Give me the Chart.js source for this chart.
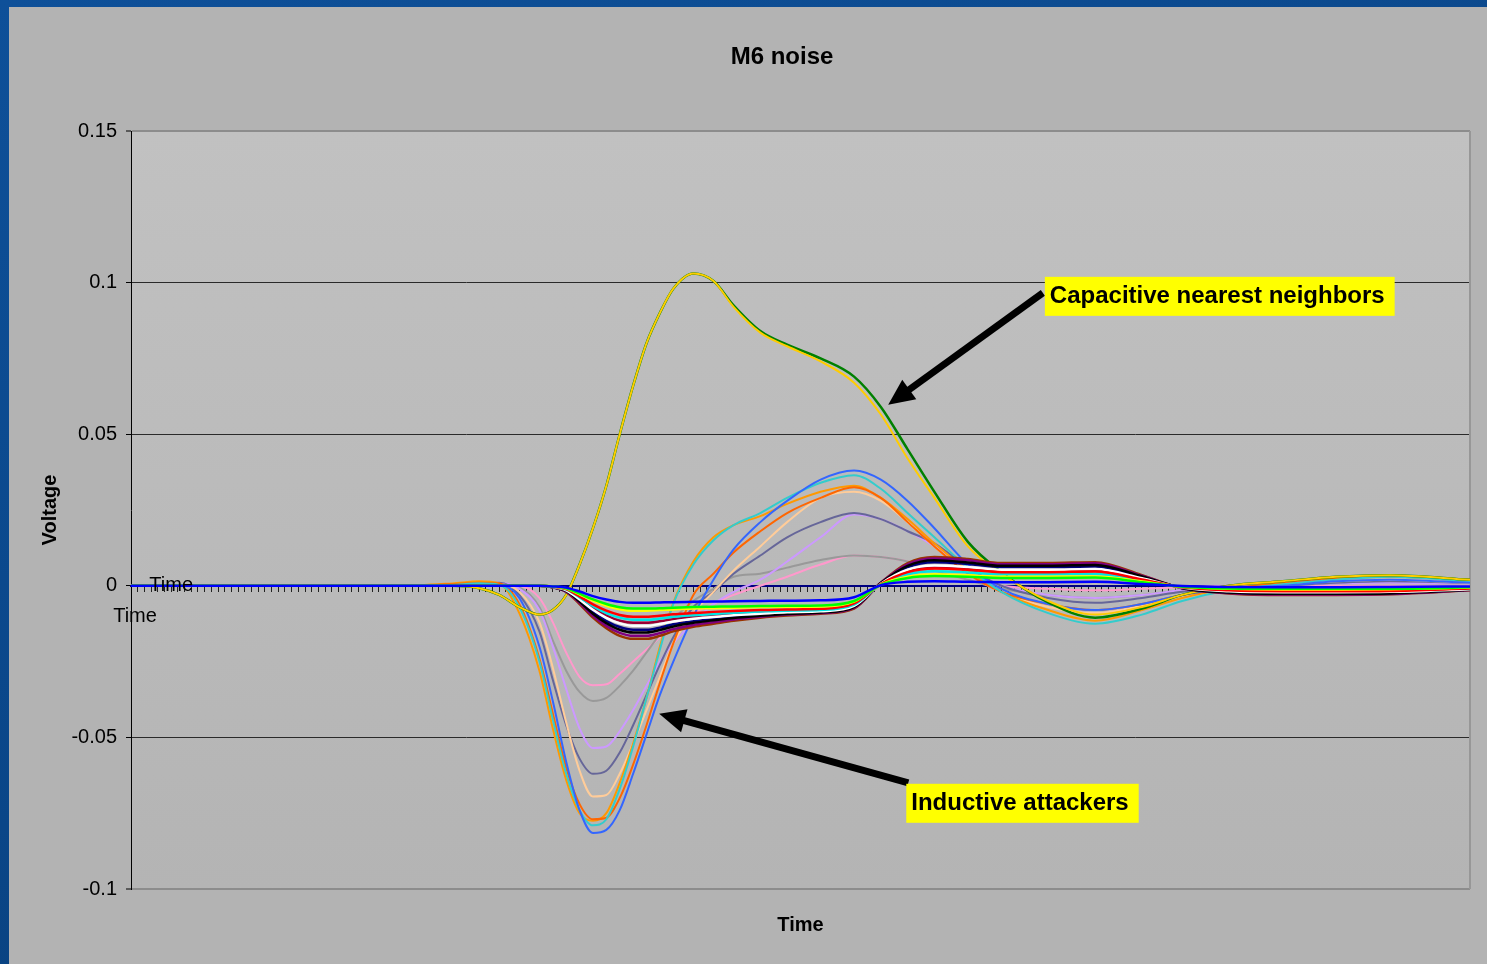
<!DOCTYPE html>
<html>
<head>
<meta charset="utf-8">
<script src="https://cdn.jsdelivr.net/npm/chart.js@4.4.0/dist/chart.umd.min.js"></script>
<style>
html, body { margin: 0; padding: 0; width: 1487px; height: 964px; overflow: hidden; }
body { background: linear-gradient(160deg, #0e5099 0%, #0a4688 55%, #073a6f 100%); }
#wrap { position: absolute; left: 9px; top: 7px; width: 1478px; height: 957px; background: #b3b3b3; }
</style>
</head>
<body>
<div id="wrap"><canvas id="myChart" width="1478" height="957"></canvas></div>
<script>
// time index (category ticks 0..200) of the sampled points
var timeSteps = [0, 40, 48, 52, 55, 58, 61, 63, 65, 67, 69, 71, 73, 75, 77, 79, 81, 84, 87, 90, 94, 98, 103, 108, 112, 116, 120, 125, 130, 137, 144, 151, 157, 164, 172, 180, 188, 200];

// capacitive nearest neighbors
var capGreen  = [0, 0, 0, -0.0008, -0.003, -0.007, -0.0095, -0.008, -0.003, 0.007, 0.019, 0.033, 0.05, 0.066, 0.08, 0.09, 0.098, 0.103, 0.1005, 0.0925, 0.084, 0.0795, 0.075, 0.069, 0.059, 0.045, 0.031, 0.0145, 0.0045, -0.0055, -0.0105, -0.0075, -0.003, 0, 0.0015, 0.003, 0.0035, 0.002];
var capYellow = [0, 0, 0, -0.0008, -0.003, -0.007, -0.0095, -0.008, -0.003, 0.007, 0.019, 0.033, 0.05, 0.066, 0.08, 0.09, 0.098, 0.103, 0.1005, 0.092, 0.0835, 0.079, 0.074, 0.067, 0.0565, 0.042, 0.029, 0.013, 0.004, -0.005, -0.0095, -0.007, -0.003, 0, 0.0015, 0.003, 0.0035, 0.002];

// inductive attackers
var indBlue      = [0, 0, 0, 0.0003, 0.0003, -0.004, -0.02, -0.038, -0.058, -0.074, -0.0815, -0.0805, -0.074, -0.062, -0.049, -0.036, -0.025, -0.01, 0.002, 0.012, 0.021, 0.028, 0.035, 0.038, 0.035, 0.028, 0.019, 0.007, -0.001, -0.006, -0.008, -0.006, -0.003, -0.001, 0, 0.0015, 0.002, 0.001];
var indTurquoise = [0, 0, 0.0003, 0.0008, 0.0003, -0.007, -0.025, -0.044, -0.062, -0.074, -0.079, -0.077, -0.067, -0.053, -0.037, -0.021, -0.006, 0.007, 0.015, 0.02, 0.024, 0.029, 0.034, 0.0365, 0.032, 0.024, 0.016, 0.006, -0.002, -0.009, -0.0125, -0.0095, -0.005, -0.0015, 0.0005, 0.002, 0.003, 0.0015];
var indOrange    = [0, 0, 0.0005, 0.001, 0.0008, -0.006, -0.024, -0.042, -0.06, -0.072, -0.077, -0.0765, -0.07, -0.059, -0.046, -0.032, -0.019, -0.003, 0.004, 0.011, 0.018, 0.024, 0.029, 0.0325, 0.029, 0.021, 0.013, 0.004, -0.002, -0.006, -0.008, -0.006, -0.003, -0.001, 0.001, 0.0025, 0.003, 0.002];
var indAmber     = [0, 0, 0.0008, 0.0015, 0.0008, -0.009, -0.028, -0.047, -0.064, -0.075, -0.0775, -0.075, -0.065, -0.052, -0.037, -0.02, -0.0056, 0.008, 0.016, 0.02, 0.023, 0.027, 0.031, 0.033, 0.029, 0.022, 0.014, 0.005, -0.002, -0.008, -0.0115, -0.008, -0.004, -0.001, 0.001, 0.0028, 0.0035, 0.002];
var indTan       = [0, 0, 0, 0.0005, 0.0005, -0.002, -0.012, -0.027, -0.045, -0.061, -0.0695, -0.069, -0.062, -0.052, -0.041, -0.03, -0.019, -0.009, -0.002, 0.005, 0.013, 0.021, 0.029, 0.031, 0.028, 0.021, 0.013, 0.004, -0.002, -0.007, -0.009, -0.0065, -0.003, -0.001, 0.0005, 0.0015, 0.002, 0.001];
var indSlate     = [0, 0, 0.0003, 0.0008, 0.001, -0.003, -0.015, -0.031, -0.046, -0.057, -0.062, -0.061, -0.055, -0.046, -0.036, -0.026, -0.017, -0.007, -0.002, 0.004, 0.01, 0.016, 0.021, 0.024, 0.022, 0.018, 0.014, 0.006, 0, -0.004, -0.0056, -0.004, -0.002, -0.0008, 0, 0.001, 0.0015, 0.001];
var indLavender  = [0, 0, 0, 0.0005, 0.001, -0.001, -0.008, -0.02, -0.034, -0.047, -0.0535, -0.053, -0.048, -0.041, -0.033, -0.025, -0.019, -0.012, -0.006, -0.002, 0.002, 0.008, 0.016, 0.0235, 0.022, 0.018, 0.013, 0.005, 0, -0.003, -0.004, -0.003, -0.0015, -0.0005, 0, 0.0008, 0.001, 0.0008];
var indGray      = [0, 0, 0, 0.0003, 0.0005, -0.0005, -0.007, -0.018, -0.028, -0.035, -0.038, -0.037, -0.033, -0.028, -0.022, -0.016, -0.011, -0.005, -0.001, 0.003, 0.004, 0.006, 0.0085, 0.01, 0.0095, 0.008, 0.005, 0.002, -0.001, -0.003, -0.004, -0.003, -0.0015, -0.0005, 0, 0.0008, 0.001, 0.0008];
var indPink      = [0, 0, 0, 0, 0.0003, 0, -0.004, -0.012, -0.022, -0.03, -0.0328, -0.0325, -0.029, -0.025, -0.021, -0.017, -0.013, -0.009, -0.006, -0.003, 0, 0.003, 0.007, 0.01, 0.0095, 0.008, 0.005, 0.002, 0, -0.001, -0.0015, -0.001, -0.0005, 0, 0, 0, 0, 0];

// other neighbors (the bundle near zero)
var nbBrown   = [0, 0, 0, 0, 0, 0, 0, -0.0005, -0.002, -0.006, -0.0105, -0.014, -0.0165, -0.0175, -0.0175, -0.0165, -0.015, -0.0135, -0.0125, -0.0115, -0.0105, -0.0098, -0.0092, -0.0075, 0.001, 0.0075, 0.0095, 0.0088, 0.0075, 0.0075, 0.0078, 0.0035, -0.0008, -0.0025, -0.003, -0.003, -0.0028, -0.0015];
var nbPurple  = [0, 0, 0, 0, 0, 0, 0, -0.0005, -0.0019, -0.0056, -0.0099, -0.0132, -0.0155, -0.0165, -0.0165, -0.0156, -0.0143, -0.0129, -0.012, -0.0111, -0.0102, -0.0095, -0.009, -0.0073, 0.001, 0.0071, 0.009, 0.0084, 0.0071, 0.0071, 0.0074, 0.0033, -0.0008, -0.0024, -0.0029, -0.0029, -0.0027, -0.0014];
var nbBlack   = [0, 0, 0, 0, 0, 0, 0, -0.0005, -0.0017, -0.0052, -0.0092, -0.0123, -0.0145, -0.0154, -0.0154, -0.0146, -0.0134, -0.0122, -0.0114, -0.0106, -0.0099, -0.0093, -0.0088, -0.007, 0.0009, 0.0066, 0.0084, 0.0077, 0.0066, 0.0066, 0.0069, 0.0031, -0.0007, -0.0022, -0.0026, -0.0026, -0.0025, -0.0013];
var nbNavy    = [0, 0, 0, 0, 0, 0, 0, -0.0004, -0.0016, -0.0049, -0.0087, -0.0116, -0.0136, -0.0145, -0.0145, -0.0138, -0.0127, -0.0117, -0.011, -0.0103, -0.0095, -0.009, -0.0086, -0.0068, 0.0008, 0.0062, 0.0078, 0.0072, 0.0062, 0.0062, 0.0064, 0.0029, -0.0007, -0.0021, -0.0025, -0.0025, -0.0023, -0.0012];
var nbWhite   = [0, 0, 0, 0, 0, 0, 0, -0.0004, -0.0015, -0.0045, -0.0079, -0.0106, -0.0124, -0.0132, -0.0132, -0.0126, -0.0118, -0.0109, -0.0103, -0.0097, -0.0092, -0.0087, -0.0084, -0.0066, 0.0007, 0.0053, 0.0067, 0.0062, 0.0053, 0.0053, 0.0055, 0.0025, -0.0006, -0.0018, -0.0021, -0.0021, -0.002, -0.0011];
var nbDarkRed = [0, 0, 0, 0, 0, 0, 0, -0.0004, -0.0013, -0.0041, -0.0073, -0.0098, -0.0115, -0.0122, -0.0122, -0.0117, -0.011, -0.0103, -0.0098, -0.0093, -0.0088, -0.0085, -0.0082, -0.0064, 0.0006, 0.0048, 0.0061, 0.0056, 0.0048, 0.0048, 0.005, 0.0022, -0.0005, -0.0016, -0.0019, -0.0019, -0.0018, -0.001];
var nbCyan    = [0, 0, 0, 0, 0, 0, 0, -0.0003, -0.0012, -0.0038, -0.0067, -0.009, -0.0105, -0.0112, -0.0112, -0.0108, -0.0102, -0.0097, -0.0093, -0.0089, -0.0085, -0.0082, -0.008, -0.0062, 0.0005, 0.0038, 0.0048, 0.0044, 0.0038, 0.0038, 0.0039, 0.0018, -0.0004, -0.0013, -0.0015, -0.0015, -0.0014, -0.0008];
var nbRed     = [0, 0, 0, 0, 0, 0, 0, -0.0003, -0.0011, -0.0035, -0.0061, -0.0082, -0.0096, -0.0102, -0.0102, -0.0099, -0.0094, -0.009, -0.0086, -0.0083, -0.008, -0.0078, -0.0076, -0.0058, 0.0006, 0.0045, 0.0057, 0.0053, 0.0045, 0.0045, 0.0047, 0.0021, -0.0005, -0.0015, -0.0018, -0.0018, -0.0017, -0.0009];
var nbYellow  = [0, 0, 0, 0, 0, 0, 0, -0.0002, -0.0009, -0.0028, -0.0049, -0.0066, -0.0077, -0.0082, -0.0082, -0.008, -0.0078, -0.0075, -0.0074, -0.0072, -0.007, -0.0069, -0.0068, -0.0052, 0.0004, 0.003, 0.0038, 0.0035, 0.003, 0.003, 0.0031, 0.0014, -0.0003, -0.001, -0.0012, -0.0012, -0.0011, -0.0006];
var nbGreen   = [0, 0, 0, 0, 0, 0, 0, -0.0002, -0.0008, -0.0026, -0.0045, -0.006, -0.0071, -0.0075, -0.0075, -0.0074, -0.0072, -0.007, -0.0069, -0.0068, -0.0067, -0.0066, -0.0065, -0.005, 0.0003, 0.0026, 0.0032, 0.003, 0.0026, 0.0026, 0.0027, 0.0012, -0.0003, -0.0009, -0.001, -0.001, -0.001, -0.0005];
var nbBlue    = [0, 0, 0, 0, 0, 0, 0, -0.0002, -0.0006, -0.0019, -0.0034, -0.0045, -0.0053, -0.0056, -0.0056, -0.0055, -0.0054, -0.0053, -0.0052, -0.0051, -0.005, -0.0049, -0.0048, -0.0038, 0.0002, 0.0013, 0.0015, 0.0013, 0.0012, 0.0012, 0.0013, 0.0006, -0.0001, -0.0004, -0.0005, -0.0005, -0.0004, -0.0002];

// y axis
var yMin = -0.1, yMax = 0.15, yStep = 0.05;

// callouts: arrow tail / tip and label box corner, in (time, volt)
var callouts = [
  { text: 'Capacitive nearest neighbors', box: [136.5, 0.1019], tail: [136.2, 0.0966], tip: [113.1, 0.0597] },
  { text: 'Inductive attackers', box: [115.8, -0.0653], tail: [116.1, -0.065], tip: [78.9, -0.0422] }
];

var FONT = '"Liberation Sans", Arial, sans-serif';

// drawing order: first is on top
var series = [
  ['nbBlue', nbBlue, '#0000FF', 2.5],
  ['nbGreen', nbGreen, '#00FF00', 2.5],
  ['nbYellow', nbYellow, '#FFFF00', 2.5],
  ['nbRed', nbRed, '#FF0000', 2.5],
  ['nbCyan', nbCyan, '#00E5E5', 2.5],
  ['nbWhite', nbWhite, '#FFFFFF', 2.5],
  ['nbBlack', nbBlack, '#000000', 2.5],
  ['nbNavy', nbNavy, '#000080', 2.5],
  ['nbDarkRed', nbDarkRed, '#990033', 2.5],
  ['nbPurple', nbPurple, '#800080', 2.5],
  ['nbBrown', nbBrown, '#993300', 2.5],
  ['capYellow', capYellow, '#FFCC00', 2],
  ['capGreen', capGreen, '#008000', 2.5],
  ['indBlue', indBlue, '#3366FF', 2],
  ['indTurquoise', indTurquoise, '#33CCCC', 2],
  ['indOrange', indOrange, '#FF6600', 2],
  ['indAmber', indAmber, '#FF9900', 2],
  ['indTan', indTan, '#FFCC99', 2],
  ['indSlate', indSlate, '#666699', 2],
  ['indLavender', indLavender, '#CC99FF', 2],
  ['indGray', indGray, '#999999', 2],
  ['indPink', indPink, '#FF99CC', 2]
];

var datasets = series.map(function(s){
  return {
    label: s[0],
    data: timeSteps.map(function(t, i){ return {x: t, y: s[1][i]}; }),
    borderColor: s[2],
    borderWidth: s[3],
    pointRadius: 0,
    fill: false,
    cubicInterpolationMode: 'monotone'
  };
});

function arrow(c, x1, y1, x2, y2){
  var ang = Math.atan2(y2 - y1, x2 - x1);
  var hl = 26, hw = 12;
  var bx = x2 - hl * Math.cos(ang), by = y2 - hl * Math.sin(ang);
  c.strokeStyle = '#000'; c.fillStyle = '#000';
  c.lineWidth = 7;
  c.beginPath(); c.moveTo(x1, y1); c.lineTo(bx + 2 * Math.cos(ang), by + 2 * Math.sin(ang)); c.stroke();
  c.beginPath();
  c.moveTo(x2, y2);
  c.lineTo(bx + hw * Math.sin(ang), by - hw * Math.cos(ang));
  c.lineTo(bx - hw * Math.sin(ang), by + hw * Math.cos(ang));
  c.closePath(); c.fill();
}

var decor = {
  id: 'decor',
  beforeDraw: function(chart){
    var a = chart.chartArea, c = chart.ctx;
    var g = c.createLinearGradient(0, a.top, 0, a.bottom);
    g.addColorStop(0, '#c1c1c1');
    g.addColorStop(1, '#b4b4b4');
    c.save();
    c.fillStyle = g;
    c.fillRect(a.left, a.top, a.right - a.left, a.bottom - a.top);
    c.restore();
  },
  beforeDatasetsDraw: function(chart){
    var a = chart.chartArea, c = chart.ctx;
    c.save();
    c.strokeStyle = '#979797'; c.lineWidth = 2;
    c.beginPath(); c.moveTo(a.right, a.top); c.lineTo(a.right, a.bottom); c.stroke();
    c.restore();
  },
  afterDatasetsDraw: function(chart){
    var c = chart.ctx, xs = chart.scales.x, ys = chart.scales.y;
    var y0 = ys.getPixelForValue(0);
    c.save();
    // category labels
    c.fillStyle = '#000';
    c.font = '20px ' + FONT;
    c.textAlign = 'center'; c.textBaseline = 'middle';
    c.fillText('Time', xs.getPixelForValue(6), y0);
    c.fillText('Time', xs.getPixelForValue(0.6), y0 + 31);
    // callouts
    callouts.forEach(function(k){
      arrow(c, xs.getPixelForValue(k.tail[0]), ys.getPixelForValue(k.tail[1]),
               xs.getPixelForValue(k.tip[0]), ys.getPixelForValue(k.tip[1]));
      c.font = 'bold 24px ' + FONT;
      var bx = xs.getPixelForValue(k.box[0]), by = ys.getPixelForValue(k.box[1]);
      var w = c.measureText(k.text).width + 15;
      c.fillStyle = '#FFFF00';
      c.fillRect(bx, by, w, 39);
      c.fillStyle = '#000';
      c.textAlign = 'left'; c.textBaseline = 'middle';
      c.fillText(k.text, bx + 5, by + 20);
    });
    c.restore();
  },
  afterDraw: function(chart){
    var a = chart.chartArea, c = chart.ctx;
    c.save();
    c.fillStyle = '#000';
    c.textAlign = 'center'; c.textBaseline = 'middle';
    c.font = 'bold 24px ' + FONT;
    c.fillText('M6 noise', 773, 50);
    c.font = 'bold 20px ' + FONT;
    c.fillText('Time', (a.left + a.right) / 2, a.bottom + 36);
    c.translate(41, (a.top + a.bottom) / 2);
    c.rotate(-Math.PI / 2);
    c.fillText('Voltage', 0, 0);
    c.restore();
  }
};

var ctx = document.getElementById('myChart').getContext('2d');
var chart = new Chart(ctx, {
  type: 'line',
  data: { datasets: datasets },
  options: {
    responsive: false,
    animation: false,
    events: [],
    layout: { padding: { top: 124, right: 17, bottom: 75, left: 0 } },
    plugins: { legend: { display: false }, tooltip: { enabled: false }, title: { display: false } },
    scales: {
      x: {
        type: 'linear',
        min: 0, max: 200,
        position: { y: 0 },
        ticks: { display: false, stepSize: 1 },
        grid: { drawOnChartArea: false, drawTicks: true, tickLength: 5, tickColor: '#222', tickWidth: 1 },
        border: { display: true, color: '#000080', width: 2 }
      },
      y: {
        min: yMin, max: yMax,
        afterFit: function(s){ s.width = 122; },
        ticks: {
          stepSize: yStep,
          color: '#000',
          padding: 9,
          font: { family: FONT, size: 20 },
          callback: function(v){ return String(+v.toFixed(2)); }
        },
        grid: {
          color: function(c){ var v = c.tick.value; return (v > 0.149 || v < -0.099) ? '#8c8c8c' : '#2a2a2a'; },
          lineWidth: function(c){ var v = c.tick.value; return (v > 0.149 || v < -0.099) ? 2 : 1; },
          tickLength: 5,
          tickColor: '#000',
          tickWidth: 1
        },
        border: { display: true, color: '#000', width: 1 }
      }
    }
  },
  plugins: [decor]
});
</script>
</body>
</html>
